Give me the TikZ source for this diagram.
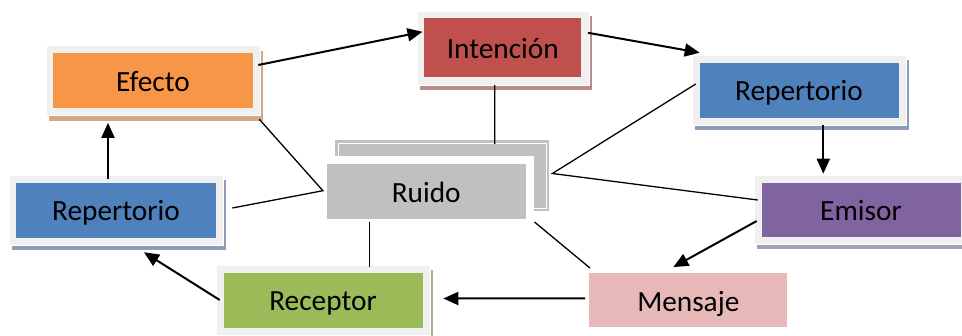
\documentclass[tikz,border=0pt]{standalone}
\usepackage{fontspec}
\setmainfont{Carlito}
\usetikzlibrary{arrows.meta,shadows,calc}

\definecolor{framegray}{HTML}{F0F0F0}
\definecolor{efectoorange}{HTML}{F79646}
\definecolor{efectoshadow}{HTML}{D3A88A}
\definecolor{intred}{HTML}{C0504D}
\definecolor{intshadow}{HTML}{B88C8C}
\definecolor{repblue}{HTML}{4F81BD}
\definecolor{repshadow}{HTML}{8E9CB6}
\definecolor{emipurple}{HTML}{8064A2}
\definecolor{emishadow}{HTML}{A59CB5}
\definecolor{recgreen}{HTML}{9BBB59}
\definecolor{recshadow}{HTML}{A7AE8E}
\definecolor{menpink}{HTML}{E6B9B8}
\definecolor{ruidogray}{HTML}{C0C0C0}

\tikzset{
  boxtext/.style={text height=25.5bp, text depth=3.8bp},
  cardbase/.style={rectangle, inner sep=0pt, minimum width=214bp, minimum height=70bp,
    fill=framegray, draw=white, line width=0.6bp, boxtext,
    path picture={\fill[#1]
      ([xshift=7.5bp,yshift=-7.5bp]path picture bounding box.north west) rectangle
      ([xshift=-7.5bp,yshift=7.5bp]path picture bounding box.south east);}},
  card/.style 2 args={cardbase=#1,
    general shadow={shadow xshift=3bp, shadow yshift=-5bp, fill=#2}},
  plainbox/.style={rectangle, inner sep=0pt, minimum width=198bp, minimum height=54bp,
    fill=#1, boxtext},
  backplate/.style={rectangle, inner sep=0pt, minimum width=214bp, minimum height=71bp,
    fill=ruidogray,
    path picture={\draw[white, line width=0.8bp]
      ([xshift=3bp,yshift=-3bp]path picture bounding box.north west) rectangle
      ([xshift=-3bp,yshift=3bp]path picture bounding box.south east);}},
  conn/.style={line width=1.3bp, black},
  flow/.style={line width=2bp, black, -{Triangle[length=15bp,width=13bp]}},
}

\begin{document}
\begin{tikzpicture}[x=1bp, y=-1bp, font=\fontsize{29.3bp}{35bp}\selectfont]
  \clip (0,0) rectangle (962,335);
  \useasboundingbox (0,0) rectangle (962,335);

  % boxes
  \node[card={efectoorange}{efectoshadow}] (efecto) at (153,80.5) {Efecto};
  \node[card={intred}{intshadow}, minimum width=172bp, minimum height=74bp]
    (intencion) at (502.8,47.8) {Intención\hspace{6bp}};
  \node[card={repblue}{repshadow}] (repR) at (799,90) {Repertorio};
  \node[card={emipurple}{emishadow}, minimum height=69bp] (emisor) at (861,209.5) {Emisor};
  \node[card={repblue}{repshadow}] (repL) at (116,210) {Repertorio};
  \node[card={recgreen}{recshadow}] (receptor) at (323,300) {Receptor};
  \node[plainbox=menpink] (mensaje) at (688.3,300.3) {Mensaje};
  \node[backplate] (ruidoback) at (442.2,175.5) {};
  \node[cardbase=ruidogray, fill=white] (ruido) at (426.2,191.7) {Ruido};

  % meeting points of the plain lines beside Ruido
  \coordinate (rv) at ([shift={(3,-2)}]ruidoback.east);
  \coordinate (lv) at ([shift={(4,-1)}]ruido.west);

  % plain links
  \draw[conn] ([xshift=-8bp]intencion.south) -- ($(intencion.south |- ruidoback.north)+(-8,4)$);
  \draw[conn] ([shift={(4,-6)}]repR.west) -- (rv) -- ([shift={(4,-9.5)}]emisor.west);
  \draw[conn] ([shift={(-1,3.5)}]efecto.south east) -- (lv) -- ([shift={(9,-2)}]repL.east);
  \draw[conn] ($(receptor.north |- ruido.south)+(46.3,-5)$) -- ($(receptor.north)+(46.3,2)$);
  \draw[conn] ([shift={(1,-5)}]ruido.south east) -- ([shift={(1,-5)}]mensaje.north west);

  % arrows of the cycle
  \draw[flow] ([shift={(-2,-15.5)}]efecto.east) -- ([shift={(6,-16)}]intencion.west);
  \draw[flow] ([shift={(-1,-15)}]intencion.east) -- ([shift={(8,-2)}]repR.north west);
  \draw[flow] ($(repR.south)+(24.3,0)$) -- ($(repR.south |- emisor.north)+(24.3,-1)$);
  \draw[flow] ([shift={(3,11.5)}]emisor.west) -- ([shift={(-15,-6)}]mensaje.north);
  \draw[flow] ([shift={(-4,-2)}]mensaje.west) -- ([shift={(13,-1.5)}]receptor.east);
  \draw[flow] ([shift={(4,0)}]receptor.west) -- ([shift={(28,7)}]repL.south);
  \draw[flow] ([shift={(-8,4)}]repL.north) -- ([shift={(-45,7)}]efecto.south);
\end{tikzpicture}
\end{document}
